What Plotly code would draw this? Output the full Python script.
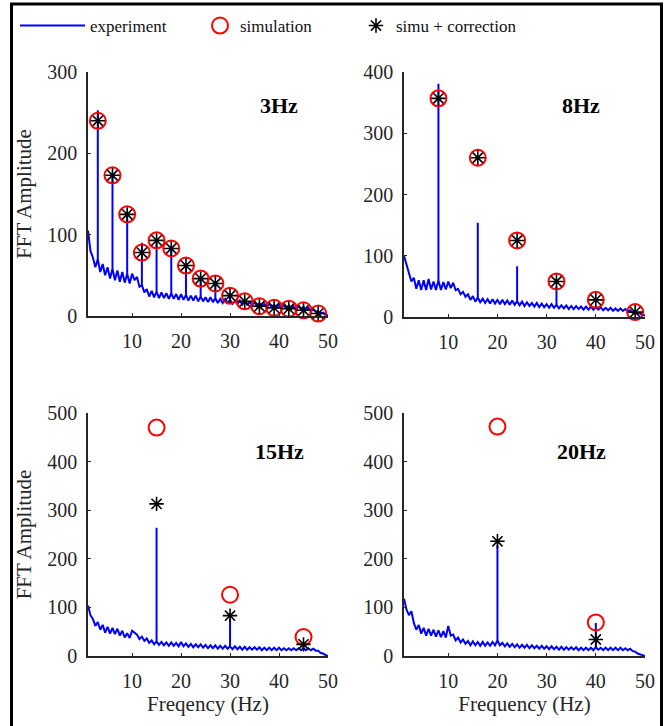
import plotly.graph_objects as go

# ---------------- data ----------------
# experimental spectrum baseline, sampled every 0.5 Hz from 1 Hz to 50 Hz (one row = 10 Hz)
base_3hz = [105, 80, 72, 60, 70, 54, 64, 50, 60, 46, 58, 44, 56, 42, 54, 41, 52, 40, 52, 44,
            48, 36, 38, 29, 33, 24, 31, 23, 30, 22, 29, 22, 28, 21, 28, 21, 27, 20, 27, 20,
            26, 19, 25, 19, 25, 18, 24, 18, 23, 17, 23, 17, 22, 16, 21, 16, 21, 16, 20, 15,
            19, 15, 19, 14, 18, 14, 17, 13, 17, 12, 16, 12, 15, 11, 15, 11, 14, 10, 14, 10,
            13, 9, 13, 9, 12, 8, 12, 8, 11, 7, 10, 6, 8, 5, 6, 3, 4, 1, 1]
base_8hz = [100, 86, 76, 58, 64, 46, 60, 44, 60, 44, 62, 45, 58, 44, 60, 44, 57, 45, 58, 47,
            56, 44, 46, 37, 41, 33, 37, 28, 34, 25, 32, 24, 30, 23, 29, 22, 29, 22, 28, 21,
            28, 21, 27, 20, 27, 20, 26, 19, 25, 18, 24, 18, 23, 17, 23, 16, 22, 16, 21, 15,
            21, 15, 20, 14, 19, 14, 19, 13, 18, 13, 18, 13, 17, 12, 17, 12, 17, 12, 16, 12,
            16, 11, 15, 11, 15, 10, 14, 10, 14, 10, 13, 9, 11, 7, 9, 5, 6, 3, 3]
base_15hz = [104, 84, 76, 62, 70, 54, 64, 48, 60, 46, 58, 45, 56, 42, 52, 38, 47, 37, 52, 48,
             44, 35, 40, 31, 36, 27, 32, 24, 30, 23, 29, 22, 28, 21, 28, 21, 27, 20, 29, 20,
             26, 19, 25, 18, 24, 18, 24, 17, 23, 16, 22, 16, 22, 15, 21, 15, 21, 15, 20, 14,
             20, 14, 19, 13, 19, 13, 18, 13, 18, 13, 18, 12, 17, 12, 17, 12, 17, 12, 17, 12,
             16, 12, 16, 12, 16, 12, 16, 12, 16, 12, 16, 12, 15, 11, 11, 6, 5, 2, 0]
base_20hz = [118, 96, 84, 92, 68, 54, 64, 46, 58, 42, 56, 42, 54, 40, 53, 39, 51, 38, 62, 42,
             44, 32, 38, 28, 34, 25, 31, 22, 30, 22, 29, 21, 29, 21, 28, 21, 29, 22, 32, 22,
             27, 20, 26, 19, 25, 18, 24, 17, 23, 17, 23, 16, 22, 16, 21, 15, 21, 15, 20, 14,
             20, 14, 19, 13, 19, 13, 18, 13, 18, 13, 18, 12, 17, 12, 17, 12, 17, 12, 18, 13,
             17, 12, 17, 12, 17, 12, 17, 12, 17, 12, 16, 12, 15, 10, 9, 5, 3, 1, 0]

# experimental spike peaks (frequency, amplitude)
spk_f_3hz = [3, 6, 9, 12, 15, 18, 21, 24, 27, 30, 33, 36, 39, 42, 45, 48]
spk_a_3hz = [253, 172, 123, 90, 92, 85, 63, 46, 40, 25, 18, 14, 12, 12, 13, 6]
spk_f_8hz = [8, 16, 24, 32]
spk_a_8hz = [381, 154, 83, 50]
spk_f_15hz = [15, 30, 45]
spk_a_15hz = [264, 76, 22]
spk_f_20hz = [20, 40]
spk_a_20hz = [228, 68]

# simulation and simulation + correction
sim_f_3hz = [3, 6, 9, 12, 15, 18, 21, 24, 27, 30, 33, 36, 39, 42, 45, 48]
sim_a_3hz = [240, 173, 125, 78, 93, 83, 62, 46, 40, 25, 18, 12, 10, 9, 7, 3]
cor_a_3hz = [240, 173, 125, 78, 93, 83, 62, 46, 40, 25, 18, 12, 10, 9, 7, 3]
sim_f_8hz = [8, 16, 24, 32, 40, 48]
sim_a_8hz = [357, 260, 125, 58, 28, 8]
cor_a_8hz = [357, 260, 125, 58, 28, 8]
sim_f_15hz = [15, 30, 45]
sim_a_15hz = [470, 126, 39]
cor_a_15hz = [313, 83, 24]
sim_f_20hz = [20, 40]
sim_a_20hz = [472, 69]
cor_a_20hz = [236, 34]

panel_labels = ["3Hz", "8Hz", "15Hz", "20Hz"]
y_max = [300, 400, 500, 500]
x_ticks = [10, 20, 30, 40, 50]


def build_line(base, spk_f, spk_a):
    peaks = dict(zip(spk_f, spk_a))
    xs, ys = [], []
    for i, b in enumerate(base):
        f = 1 + 0.5 * i
        xs.append(f)
        ys.append(b)
        if f in peaks:
            xs += [f, f]
            ys += [peaks[f], b]
    return xs, ys


panels = [
    (base_3hz, spk_f_3hz, spk_a_3hz, sim_f_3hz, sim_a_3hz, cor_a_3hz),
    (base_8hz, spk_f_8hz, spk_a_8hz, sim_f_8hz, sim_a_8hz, cor_a_8hz),
    (base_15hz, spk_f_15hz, spk_a_15hz, sim_f_15hz, sim_a_15hz, cor_a_15hz),
    (base_20hz, spk_f_20hz, spk_a_20hz, sim_f_20hz, sim_a_20hz, cor_a_20hz),
]

W, H = 665, 726
px_x = [(88, 328), (404, 645), (88, 328), (404, 645)]
px_y = [(72, 316), (72, 317), (413, 656), (413, 656)]

FONT = "Liberation Serif"
AX = "#262626"

fig = go.Figure()

for k, (base, sf, sa, mf, ma, ca) in enumerate(panels):
    xa = "x" if k == 0 else f"x{k+1}"
    ya = "y" if k == 0 else f"y{k+1}"
    lx, ly = build_line(base, sf, sa)
    fig.add_trace(go.Scatter(x=lx, y=ly, mode="lines", xaxis=xa, yaxis=ya,
                             line=dict(color="#0000ff", width=2),
                             name="experiment", showlegend=(k == 0), legend="legend"))
    fig.add_trace(go.Scatter(x=mf, y=ma, mode="markers", xaxis=xa, yaxis=ya,
                             marker=dict(symbol="circle-open", size=16, color="#ff0000",
                                         line=dict(width=2, color="#ff0000")),
                             cliponaxis=False,
                             name="simulation", showlegend=(k == 0), legend="legend2"))
    fig.add_trace(go.Scatter(x=mf, y=ca, mode="markers", xaxis=xa, yaxis=ya,
                             marker=dict(symbol="asterisk-open", size=12, color="#000000",
                                         line=dict(width=1.6, color="#000000")),
                             cliponaxis=False,
                             name="simu + correction", showlegend=(k == 0), legend="legend3"))

layout = dict(
    width=W, height=H,
    margin=dict(l=0, r=0, t=0, b=0, autoexpand=False),
    paper_bgcolor="white", plot_bgcolor="white",
    font=dict(family=FONT, size=20, color=AX),
)

for k in range(4):
    xs = "xaxis" if k == 0 else f"xaxis{k+1}"
    ys = "yaxis" if k == 0 else f"yaxis{k+1}"
    x0, x1 = px_x[k]
    y0, y1 = px_y[k]
    layout[xs] = dict(domain=[x0 / W, x1 / W], range=[1, 50],
                      anchor="y" if k == 0 else f"y{k+1}",
                      tickvals=x_ticks, ticks="inside", ticklen=3, tickcolor=AX,
                      showline=True, linecolor=AX, linewidth=1.5,
                      showgrid=False, zeroline=False, ticklabelstandoff=6,
                      automargin=False,
                      tickfont=dict(family=FONT, size=20, color=AX))
    layout[ys] = dict(domain=[1 - y1 / H, 1 - y0 / H], range=[0, y_max[k]],
                      anchor="x" if k == 0 else f"x{k+1}",
                      dtick=100, ticks="inside", ticklen=3, tickcolor=AX,
                      showline=True, linecolor=AX, linewidth=1.5,
                      showgrid=False, zeroline=False, ticklabelstandoff=5,
                      automargin=False,
                      tickfont=dict(family=FONT, size=20, color=AX))

ttl_font = dict(family=FONT, size=21, color=AX)
layout["yaxis"]["title"] = dict(text="FFT Amplitude", font=ttl_font, standoff=10)
layout["yaxis3"]["title"] = dict(text="FFT Amplitude", font=ttl_font, standoff=10)
layout["xaxis3"]["title"] = dict(text="Freqency (Hz)", font=ttl_font, standoff=6)
layout["xaxis4"]["title"] = dict(text="Frequency (Hz)", font=ttl_font, standoff=6)

leg_common = dict(orientation="h", yanchor="middle", y=1 - 26 / H, xanchor="left",
                  bgcolor="rgba(0,0,0,0)", borderwidth=0,
                  font=dict(family=FONT, size=17, color="#111111"))
layout["legend"] = dict(x=15 / W, itemwidth=65, **leg_common)
layout["legend2"] = dict(x=200 / W, **leg_common)
layout["legend3"] = dict(x=356 / W, **leg_common)

fig.update_layout(**layout)

ann_pos = [(40, 259, "x", "y"), (37, 346, "x2", "y2"), (40, 420, "x3", "y3"), (37, 420, "x4", "y4")]
for (ax_, ay_, xr, yr), lab in zip(ann_pos, panel_labels):
    fig.add_annotation(x=ax_, y=ay_, xref=xr, yref=yr, text=f"<b>{lab}</b>", showarrow=False,
                       font=dict(family=FONT, size=22, color="#000000"))

# outer frame
fig.add_shape(type="rect", xref="paper", yref="paper",
              x0=11.5 / W, x1=661.5 / W, y0=-0.02, y1=1 - 4 / H,
              line=dict(color="black", width=3), layer="above")

fig.write_html("out.html", config={"displayModeBar": False},
               post_script="document.body.style.margin='0px';")
